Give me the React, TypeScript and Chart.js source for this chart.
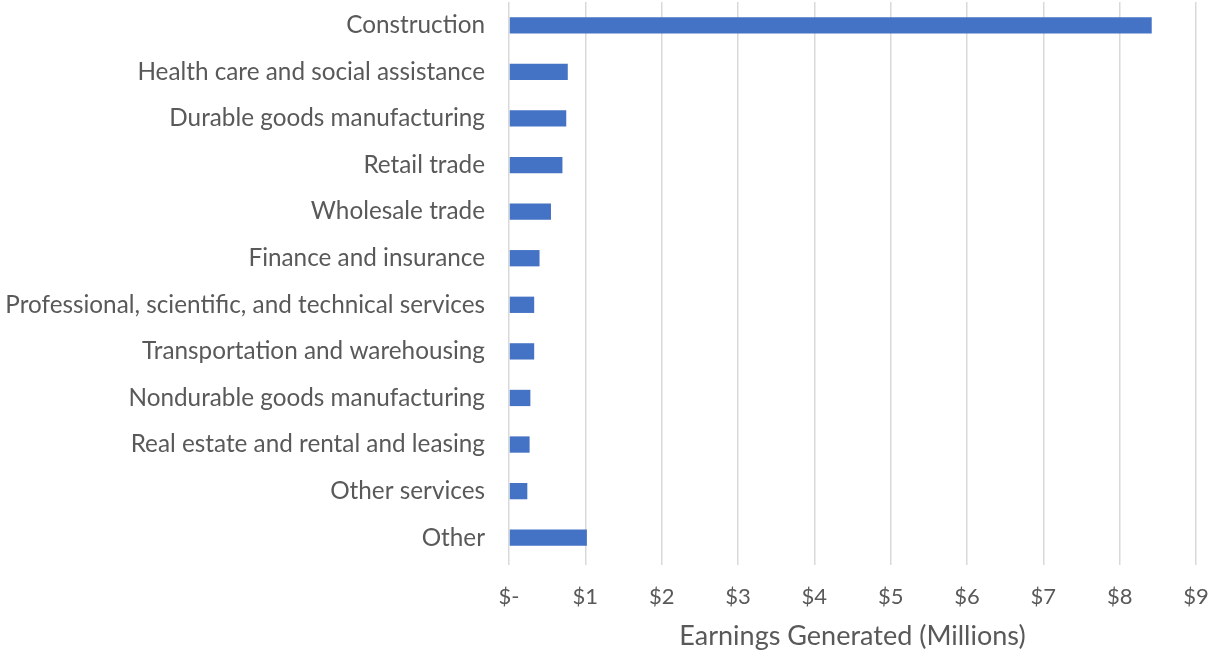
import React, { useEffect, useRef } from "react";
import { Chart, registerables } from "chart.js";

Chart.register(...registerables);

const categories = [
  "Construction",
  "Health care and social assistance",
  "Durable goods manufacturing",
  "Retail trade",
  "Wholesale trade",
  "Finance and insurance",
  "Professional, scientific, and technical services",
  "Transportation and warehousing",
  "Nondurable goods manufacturing",
  "Real estate and rental and leasing",
  "Other services",
  "Other",
];

const earnings = [8.42, 0.77, 0.75, 0.70, 0.55, 0.40, 0.33, 0.33, 0.28, 0.27, 0.24, 1.02];

const xTickLabels = ["$-", "$1", "$2", "$3", "$4", "$5", "$6", "$7", "$8", "$9"];
const xTitle = "Earnings Generated (Millions)";

const FONT = "Lato, 'Open Sans', sans-serif";
const TEXT = "#595959";
const GRID = "#d9d9d9";

export default function App() {
  const ref = useRef<HTMLCanvasElement | null>(null);

  useEffect(() => {
    const canvas = ref.current;
    if (!canvas) return;
    const chart = new Chart(canvas, {
      type: "bar",
      data: {
        labels: categories,
        datasets: [
          {
            data: earnings,
            backgroundColor: "#4472C4",
            borderWidth: 0,
            barPercentage: 0.35,
            categoryPercentage: 1,
          },
        ],
      },
      options: {
        indexAxis: "y",
        animation: false,
        responsive: false,
        maintainAspectRatio: false,
        layout: { padding: { top: 2, right: 19, bottom: 0, left: 0 } },
        plugins: {
          legend: { display: false },
          tooltip: { enabled: false },
        },
        scales: {
          x: {
            min: 0,
            max: 9,
            ticks: {
              stepSize: 1,
              color: TEXT,
              font: { family: FONT, size: 22 },
              padding: 19,
              maxRotation: 0,
              callback: (v: any, i: number) => xTickLabels[i] ?? "",
            },
            grid: {
              color: GRID,
              lineWidth: 1.5,
              tickLength: 4,
              drawTicks: true,
            },
            border: { display: false },
            title: {
              display: true,
              text: xTitle,
              color: TEXT,
              font: { family: FONT, size: 27 },
              padding: { top: 0, bottom: 4 },
            },
            afterFit: (scale: any) => {
              scale.height = 95;
              scale.paddingLeft = 0;
              scale.paddingRight = 0;
            },
          },
          y: {
            ticks: {
              color: TEXT,
              font: { family: FONT, size: 24.3 },
              padding: 24,
              autoSkip: false,
            },
            grid: { display: false, drawTicks: false },
            border: { display: false },
            afterFit: (scale: any) => {
              scale.width = 509;
              scale.paddingTop = 0;
              scale.paddingBottom = 0;
            },
          },
        },
      },
    });
    return () => chart.destroy();
  }, []);

  return (
    <div style={{ position: "absolute", left: 0, top: 0, width: 1215, height: 656, background: "#fff" }}>
      <canvas ref={ref} width={1215} height={656} style={{ display: "block" }} />
    </div>
  );
}
